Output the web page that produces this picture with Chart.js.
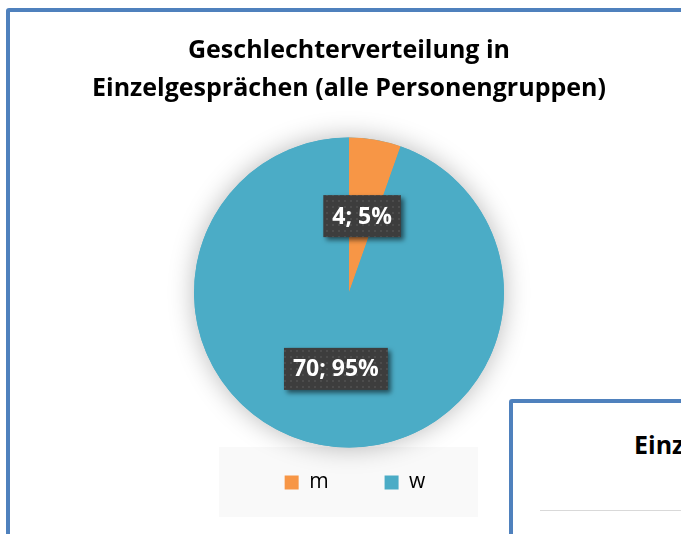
<!DOCTYPE html>
<html>
<head>
<meta charset="utf-8">
<script src="https://cdn.jsdelivr.net/npm/chart.js@4.4.0/dist/chart.umd.min.js"></script>
<style>
  html, body { margin: 0; padding: 0; background: #fff; overflow: hidden; }
  #wrap { position: relative; width: 681px; height: 534px; }
  #frame {
    position: absolute; left: 6px; top: 8px; width: 700px; height: 560px;
    border: 4px solid #4f81bd; border-radius: 3px; background: #fff;
  }
  #chart { position: absolute; left: 0; top: 0; }
  #panel2 {
    position: absolute; left: 509px; top: 399px; width: 300px; height: 300px;
    border: 4px solid #4f81bd; border-radius: 3px; background: #fff;
  }
  #panel2 .t {
    position: absolute; left: 121px; top: 24px; white-space: nowrap;
    font: bold 25px "Open Sans", sans-serif; color: #000;
  }
  #panel2 .ln {
    position: absolute; left: 27px; top: 107px; width: 300px; height: 1px; background: #d9d9d9;
  }
</style>
</head>
<body>
<div id="wrap">
  <div id="frame"></div>
  <canvas id="chart" width="681" height="534"></canvas>
  <div id="panel2"><div class="t">Einzelgespräche</div><div class="ln"></div></div>
</div>
<script>
'use strict';

// ── DATA ──────────────────────────────────────────────
const titleLines = ['Geschlechterverteilung in', 'Einzelgesprächen (alle Personengruppen)'];
const categories = ['m', 'w'];
const values     = [4, 70];
const colors     = ['#f79646', '#4bacc6'];

const total = values.reduce((a, b) => a + b, 0);
const FONT = '"Open Sans", sans-serif';

// dotted dark pattern for the data labels
function makePattern(ctx) {
  const p = document.createElement('canvas');
  p.width = 6; p.height = 6;
  const pc = p.getContext('2d');
  pc.fillStyle = '#3d3d3d';
  pc.fillRect(0, 0, 6, 6);
  pc.fillStyle = '#4c4c4c';
  pc.fillRect(2, 2, 2, 2);
  return ctx.createPattern(p, 'repeat');
}

/* ── PLUGINS ─────────────────────────────────────────── */
const legendBox = {
  id: 'legendBox',
  afterLayout(chart) {
    // legend group sits a few px right of the pie centre in the original
    chart.legend.left += 12;
  },
  beforeDraw(chart) {
    const { ctx, legend, chartArea } = chart;
    const cx = (chartArea.left + chartArea.right) / 2;
    ctx.save();
    ctx.fillStyle = '#f9f9f9';
    ctx.fillRect(cx - 130, legend.top - 25, 259, 70);
    ctx.restore();
  }
};

const pieShadow = {
  id: 'pieShadow',
  beforeDatasetsDraw(chart) {
    const arc = chart.getDatasetMeta(0).data[0];
    if (!arc) return;
    const { ctx } = chart;
    ctx.save();
    ctx.shadowColor = 'rgba(0,0,0,0.28)';
    ctx.shadowBlur = 26;
    ctx.fillStyle = colors[1];
    ctx.beginPath();
    ctx.arc(arc.x, arc.y, arc.outerRadius, 0, Math.PI * 2);
    ctx.fill();
    ctx.restore();
  }
};

const boxLabels = {
  id: 'boxLabels',
  afterDatasetsDraw(chart) {
    const { ctx } = chart;
    const pattern = makePattern(ctx);
    chart.getDatasetMeta(0).data.forEach((arc, i) => {
      const v = values[i];
      const text = `${v}; ${Math.round(v / total * 100)}%`;
      const pt = arc.getCenterPoint();
      ctx.save();
      ctx.font = `bold 23px ${FONT}`;
      const w = ctx.measureText(text).width + 18;
      const h = 42;
      const x = pt.x - w / 2, y = pt.y - h / 2;
      ctx.shadowColor = 'rgba(0,0,0,0.55)';
      ctx.shadowBlur = 5;
      ctx.shadowOffsetX = 3;
      ctx.shadowOffsetY = 3;
      ctx.fillStyle = pattern;
      ctx.fillRect(x, y, w, h);
      ctx.shadowColor = 'transparent';
      ctx.fillStyle = '#fff';
      ctx.textAlign = 'center';
      ctx.textBaseline = 'middle';
      ctx.fillText(text, pt.x, pt.y + 1);
      ctx.restore();
    });
  }
};

new Chart(document.getElementById('chart'), {
  type: 'pie',
  data: {
    labels: categories,
    datasets: [{
      data: values,
      backgroundColor: colors,
      borderWidth: 0,
      radius: 155,
    }]
  },
  options: {
    responsive: false,
    animation: false,
    layout: { padding: { left: 17, right: 0, top: 0, bottom: 31 } },
    plugins: {
      title: {
        display: true,
        text: titleLines,
        color: '#000',
        font: { family: FONT, size: 25, weight: 'bold', lineHeight: 38 / 25 },
        padding: { top: 32, bottom: 5 },
      },
      legend: {
        position: 'bottom',
        labels: {
          boxWidth: 14,
          boxHeight: 14,
          padding: 0,
          color: '#1a1a1a',
          font: { family: FONT, size: 21 },
          generateLabels: chart => categories.map((c, i) => ({
            text: i === 0 ? c + '\u2003\u2003\u2002\u2009' : c,
            fillStyle: colors[i],
            strokeStyle: colors[i],
            lineWidth: 0,
            index: i,
          })),
        }
      },
      tooltip: { enabled: false },
    }
  },
  plugins: [legendBox, pieShadow, boxLabels]
});
</script>
</body>
</html>
